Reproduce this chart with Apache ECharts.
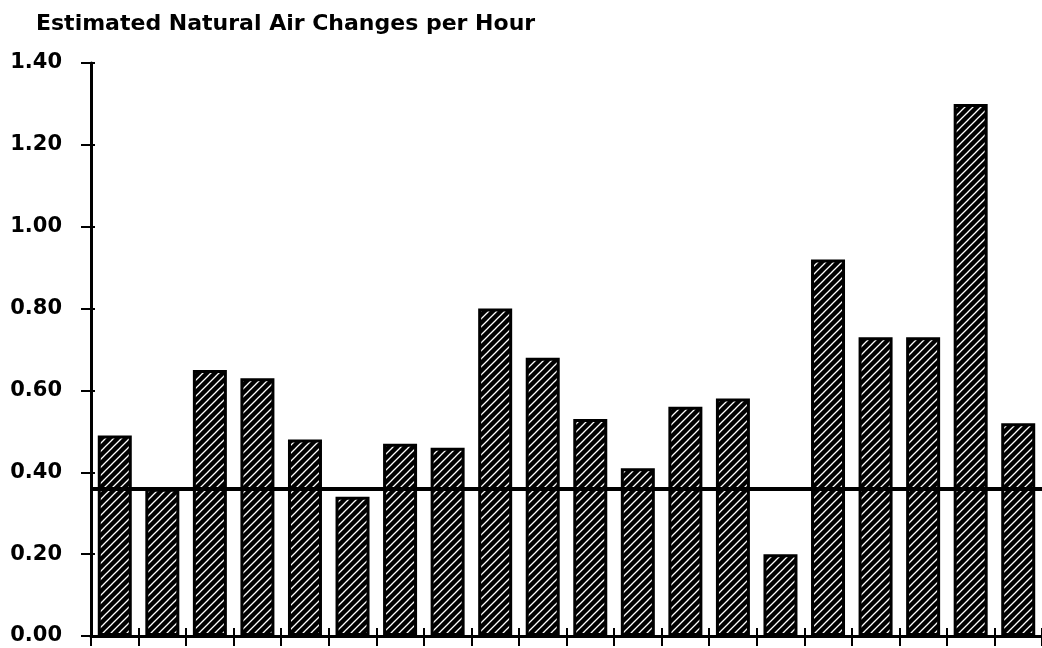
<!DOCTYPE html>
<html>
<head>
<meta charset="utf-8">
<script src="https://cdn.jsdelivr.net/npm/echarts@6/dist/echarts.min.js"></script>
<style>
  html, body { margin: 0; padding: 0; background: #fff; }
  #chart { width: 1042px; height: 648px; }
</style>
</head>
<body>
<div id="chart"></div>
<script>
// data
var categories = ['1', '2', '3', '4', '5', '6', '7', '8', '9', '10',
                  '11', '12', '13', '14', '15', '16', '17', '18', '19', '20'];
var airChanges = [0.49, 0.36, 0.65, 0.63, 0.48, 0.34, 0.47, 0.46, 0.80, 0.68,
                  0.53, 0.41, 0.56, 0.58, 0.20, 0.92, 0.73, 0.73, 1.30, 0.52];
var referenceLevel = 0.36;
var titleText = 'Estimated Natural Air Changes per Hour';

// hatch fill: black with thin white diagonal stripes
function makeHatch() {
    var c = document.createElement('canvas');
    c.width = 8; c.height = 8;
    var ctx = c.getContext('2d');
    ctx.fillStyle = '#000';
    ctx.fillRect(0, 0, 8, 8);
    ctx.strokeStyle = '#fff';
    ctx.lineWidth = 1.3;
    ctx.beginPath();
    ctx.moveTo(-2, 10); ctx.lineTo(10, -2);
    ctx.moveTo(-2, 2); ctx.lineTo(2, -2);
    ctx.moveTo(6, 10); ctx.lineTo(10, 6);
    ctx.stroke();
    return c;
}

var chart = echarts.init(document.getElementById('chart'));
var font = '"DejaVu Sans", sans-serif';

chart.setOption({
    animation: false,
    title: {
        text: titleText,
        left: 31, top: 8,
        textStyle: { fontFamily: font, fontSize: 22, fontWeight: 'bold', color: '#000' }
    },
    grid: { left: 91, top: 63, width: 954, height: 573 },
    xAxis: [{
        type: 'category',
        data: categories,
        boundaryGap: true,
        axisLine: { lineStyle: { color: '#000', width: 3 } },
        axisTick: { show: true, length: 10, lineStyle: { color: '#000', width: 2 } },
        axisLabel: { show: false }
    }, {
        // ticks poking above the axis line
        type: 'category',
        data: categories,
        position: 'bottom',
        boundaryGap: true,
        axisLine: { show: false },
        axisTick: { show: true, inside: true, length: 8, lineStyle: { color: '#000', width: 2 } },
        axisLabel: { show: false }
    }],
    yAxis: [{
        type: 'value',
        min: 0, max: 1.4, interval: 0.2,
        axisLine: { show: true, lineStyle: { color: '#000', width: 3 } },
        axisTick: { show: true, length: 10, lineStyle: { color: '#000', width: 2 } },
        splitLine: { show: false },
        axisLabel: {
            margin: 29,
            color: '#000',
            fontFamily: font,
            fontSize: 21,
            fontWeight: 'bold',
            formatter: function (v) { return v.toFixed(2); }
        }
    }, {
        // small part of each tick on the inner side
        type: 'value',
        position: 'left',
        min: 0, max: 1.4, interval: 0.2,
        axisLine: { show: false },
        axisTick: { show: true, inside: true, length: 4, lineStyle: { color: '#000', width: 2 } },
        splitLine: { show: false },
        axisLabel: { show: false }
    }],
    series: [{
        type: 'bar',
        data: airChanges,
        barWidth: 34,
        itemStyle: {
            color: { image: makeHatch(), repeat: 'repeat' },
            borderColor: '#000',
            borderWidth: 3
        },
        markLine: {
            silent: true,
            symbol: 'none',
            label: { show: false },
            lineStyle: { color: '#000', width: 4, type: 'solid' },
            data: [{ yAxis: referenceLevel }]
        }
    }]
});

window.addEventListener('resize', function () { chart.resize(); });
</script>
</body>
</html>
